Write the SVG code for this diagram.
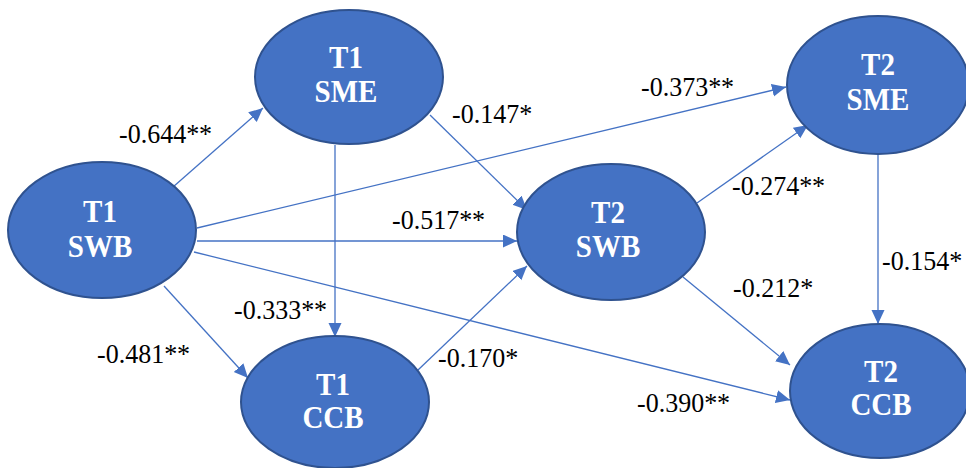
<svg xmlns="http://www.w3.org/2000/svg" width="966" height="468" viewBox="0 0 966 468">
  <style>
    .node { fill: #4472C4; stroke: #2F528F; stroke-width: 2; }
    .name { font-weight: bold; font-size: 29px; fill: #FFFFFF; text-anchor: middle; }
    .edge { stroke: #4472C4; stroke-width: 1.3; fill: none; marker-end: url(#arrow); }
    .coef { font-size: 26px; fill: #000000; }
  </style>
  <defs>
    <marker id="arrow" markerUnits="userSpaceOnUse" markerWidth="15" markerHeight="14" refX="14" refY="6.5" orient="auto">
      <path d="M0,0 L14,6.5 L0,13 Z" fill="#4472C4"/>
    </marker>
  </defs>
  <rect width="966" height="468" fill="#FFFFFF"/>

  <!-- path connectors -->
  <g id="connectors">
    <line class="edge" x1="173" y1="187" x2="263" y2="108"/>
    <line class="edge" x1="197" y1="228" x2="786" y2="87"/>
    <line class="edge" x1="197" y1="241" x2="517" y2="241"/>
    <line class="edge" x1="194" y1="252" x2="790" y2="400"/>
    <line class="edge" x1="164" y1="286" x2="248" y2="378"/>
    <line class="edge" x1="335" y1="145" x2="335" y2="337"/>
    <line class="edge" x1="430" y1="115" x2="527" y2="210"/>
    <line class="edge" x1="418" y1="370" x2="527" y2="266"/>
    <line class="edge" x1="697" y1="203" x2="808" y2="125"/>
    <line class="edge" x1="683" y1="277" x2="790" y2="365"/>
    <line class="edge" x1="878" y1="154" x2="878" y2="324"/>
  </g>

  <!-- path coefficients -->
  <g id="coefficients" font-family="Liberation Serif, Noto Serif, DejaVu Serif, Times New Roman, Times, serif">
    <text class="coef" transform="translate(119 143) scale(1 1.08)">-0.644**</text>
    <text class="coef" transform="translate(452 123) scale(1 1.08)">-0.147*</text>
    <text class="coef" transform="translate(641 96) scale(1 1.08)">-0.373**</text>
    <text class="coef" transform="translate(392 229) scale(1 1.08)">-0.517**</text>
    <text class="coef" transform="translate(732 195) scale(1 1.08)">-0.274**</text>
    <text class="coef" transform="translate(733 297) scale(1 1.08)">-0.212*</text>
    <text class="coef" transform="translate(882 270) scale(1 1.08)">-0.154*</text>
    <text class="coef" transform="translate(234 319) scale(1 1.08)">-0.333**</text>
    <text class="coef" transform="translate(97 363) scale(1 1.08)">-0.481**</text>
    <text class="coef" transform="translate(438 367) scale(1 1.08)">-0.170*</text>
    <text class="coef" transform="translate(637 412) scale(1 1.08)">-0.390**</text>
  </g>

  <g id="nodes" font-family="Liberation Serif, Noto Serif, DejaVu Serif, Times New Roman, Times, serif">
    <g id="t1-swb">
      <ellipse class="node" cx="102" cy="230" rx="94" ry="68"/>
      <text class="name" transform="translate(100 222) scale(1 1.1)">T1</text>
      <text class="name" transform="translate(100 257) scale(1 1.1)">SWB</text>
    </g>
    <g id="t1-sme">
      <ellipse class="node" cx="349" cy="77" rx="94" ry="67"/>
      <text class="name" transform="translate(346 68) scale(1 1.1)">T1</text>
      <text class="name" transform="translate(346 102) scale(1 1.1)">SME</text>
    </g>
    <g id="t1-ccb">
      <ellipse class="node" cx="335" cy="402" rx="94" ry="66"/>
      <text class="name" transform="translate(333 395) scale(1 1.1)">T1</text>
      <text class="name" transform="translate(333 428) scale(1 1.1)">CCB</text>
    </g>
    <g id="t2-swb">
      <ellipse class="node" cx="611" cy="232" rx="94" ry="68"/>
      <text class="name" transform="translate(608 223) scale(1 1.1)">T2</text>
      <text class="name" transform="translate(608 257) scale(1 1.1)">SWB</text>
    </g>
    <g id="t2-sme">
      <ellipse class="node" cx="878" cy="85" rx="91" ry="69"/>
      <text class="name" transform="translate(878 75) scale(1 1.1)">T2</text>
      <text class="name" transform="translate(878 110) scale(1 1.1)">SME</text>
    </g>
    <g id="t2-ccb">
      <ellipse class="node" cx="880" cy="391" rx="90" ry="67"/>
      <text class="name" transform="translate(881 382) scale(1 1.1)">T2</text>
      <text class="name" transform="translate(881 415) scale(1 1.1)">CCB</text>
    </g>
  </g>
</svg>
